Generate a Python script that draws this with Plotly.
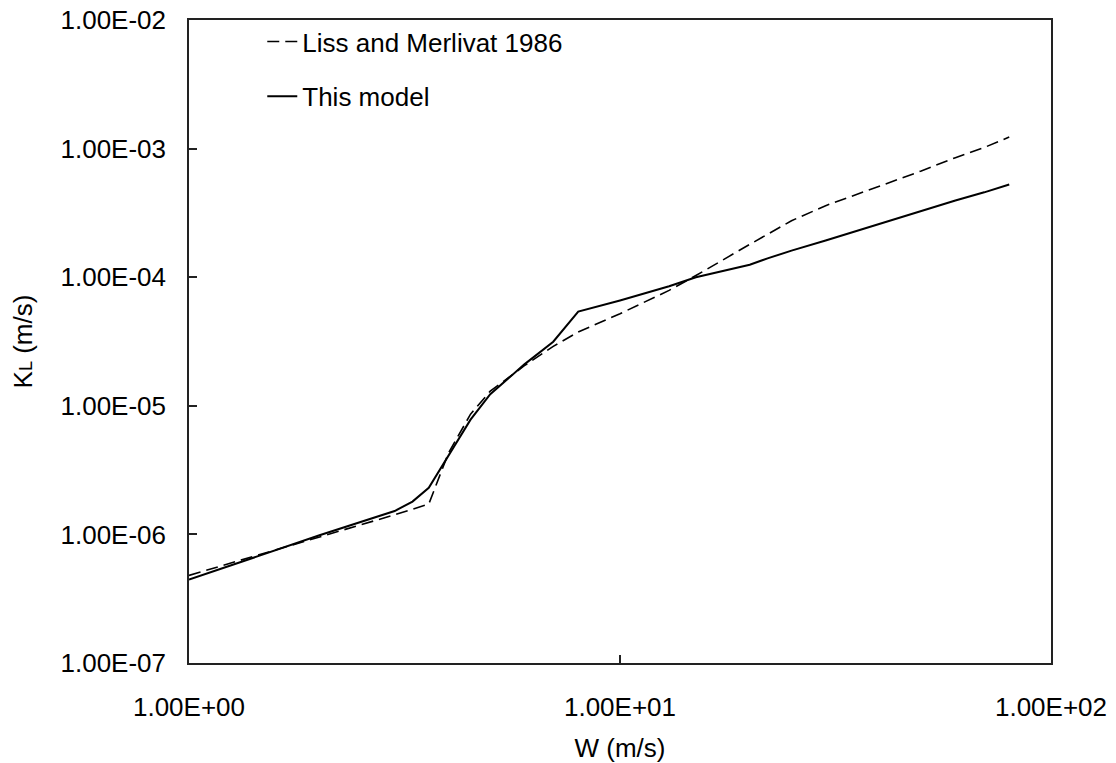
import plotly.graph_objects as go

# Wind speed W (m/s)
w_liss = [1, 2, 3, 3.6, 4, 4.5, 5, 6, 7, 8, 10, 13, 15, 20, 25, 30, 40, 50, 60, 70, 80]
kl_liss = [4.8e-7, 9.5e-7, 1.42e-6, 1.72e-6, 4.3e-6, 8.6e-6, 1.3e-5, 2.05e-5, 2.9e-5, 3.75e-5,
           5.2e-5, 7.9e-5, 1.03e-4, 1.8e-4, 2.75e-4, 3.6e-4, 5.1e-4, 6.7e-4, 8.5e-4, 1.02e-3, 1.23e-3]

w_model = [1, 2, 3, 3.3, 3.6, 4, 4.5, 5, 5.5, 6, 7, 8, 10, 13, 15, 20, 22, 25, 30, 40, 50, 60, 70, 80]
kl_model = [4.45e-7, 9.8e-7, 1.52e-6, 1.8e-6, 2.3e-6, 4.05e-6, 7.8e-6, 1.23e-5, 1.62e-5, 2.1e-5,
            3.15e-5, 5.4e-5, 6.6e-5, 8.5e-5, 1.0e-4, 1.25e-4, 1.4e-4, 1.61e-4, 1.93e-4, 2.6e-4,
            3.26e-4, 3.95e-4, 4.57e-4, 5.26e-4]

x_tickvals = [1, 10, 100]
x_ticktext = ["1.00E+00", "1.00E+01", "1.00E+02"]
y_tickvals = [1e-7, 1e-6, 1e-5, 1e-4, 1e-3, 1e-2]
y_ticktext = ["1.00E-07", "1.00E-06", "1.00E-05", "1.00E-04", "1.00E-03", "1.00E-02"]

FONT = "Liberation Sans, Arial, sans-serif"
FS = 26

fig = go.Figure()
fig.add_trace(go.Scatter(
    x=w_liss, y=kl_liss, mode="lines", name="Liss and Merlivat 1986",
    legendgroup="a",
    line=dict(color="black", width=1.6, dash="12px,6px"),
))
fig.add_trace(go.Scatter(
    x=w_model, y=kl_model, mode="lines", name="This model",
    legendgroup="b",
    line=dict(color="black", width=2),
))

axis_common = dict(
    showgrid=False, zeroline=False, automargin=False,
    showline=True, linecolor="#222", linewidth=1.5, mirror=True,
    ticks="inside", ticklen=8, tickcolor="#222", tickwidth=1.5,
    tickfont=dict(family=FONT, size=FS, color="black"),
)

fig.update_layout(
    width=1116, height=763,
    margin=dict(l=189, r=65, t=20, b=100),
    paper_bgcolor="white", plot_bgcolor="white",
    font=dict(family=FONT, size=FS, color="black"),
    xaxis=dict(
        type="log", range=[0, 2],
        tickvals=x_tickvals, ticktext=x_ticktext,
        ticklabelstandoff=20,
        title=dict(text="W (m/s)", font=dict(family=FONT, size=FS), standoff=18),
        **axis_common,
    ),
    yaxis=dict(
        type="log", range=[-7, -2],
        tickvals=y_tickvals, ticktext=y_ticktext,
        ticklabelstandoff=16,
        title=dict(text="K<span style='font-size:18px'>L</span> (m/s)",
                   font=dict(family=FONT, size=FS), standoff=20),
        **axis_common,
    ),
    legend=dict(
        x=0.085, y=1.003, xanchor="left", yanchor="top",
        bgcolor="rgba(0,0,0,0)", borderwidth=0,
        font=dict(family=FONT, size=FS, color="black"),
        traceorder="grouped", tracegroupgap=18,
    ),
    showlegend=True,
)

fig.write_html("out.html")
